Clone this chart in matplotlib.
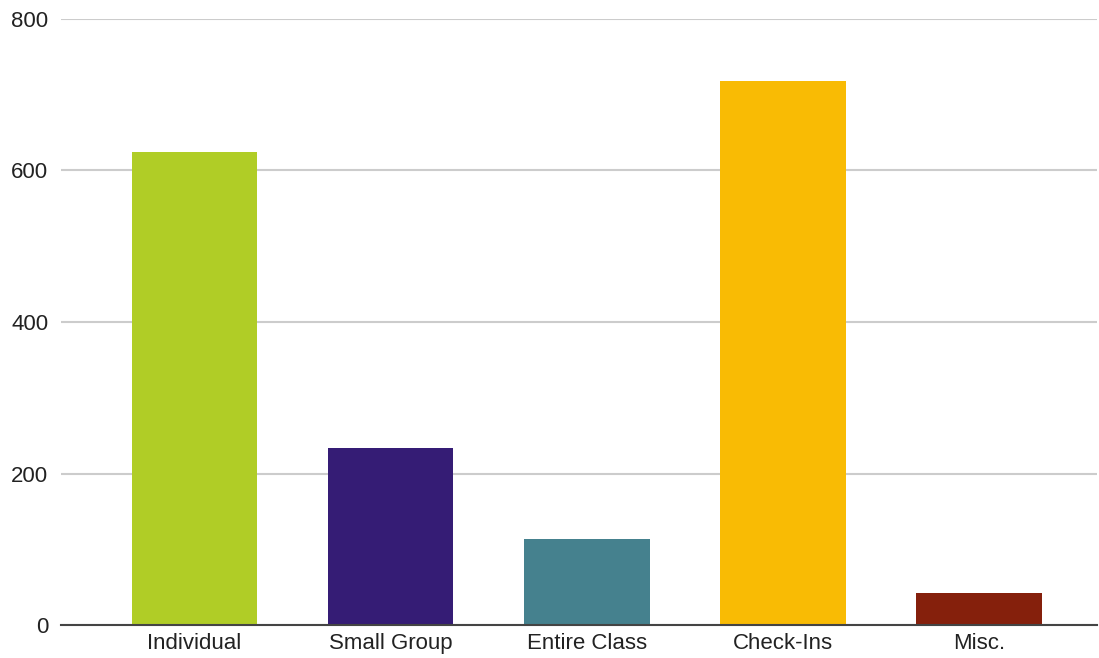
import matplotlib
matplotlib.use("Agg")
import matplotlib.pyplot as plt

categories = ["Individual", "Small Group", "Entire Class", "Check-Ins", "Misc."]
values = [624, 234, 114, 718, 42]
colors = ["#b0cd26", "#351c75", "#45818e", "#f9bb04", "#85200c"]
yticks = [0, 200, 400, 600, 800]

plt.rcParams["font.family"] = ["Liberation Sans", "DejaVu Sans"]

fig = plt.figure(figsize=(10.99, 6.58), dpi=100)
ax = fig.add_axes([61 / 1099, 33 / 658, 1036 / 1099, 606 / 658])

x = range(len(categories))
ax.bar(x, values, width=0.64, color=colors, zorder=3)

ax.set_ylim(0, 800)
ax.set_xlim(-0.68, 4.6)
ax.set_yticks(yticks)
ax.set_xticks(list(x))
ax.set_xticklabels(categories)
ax.yaxis.grid(True, color="#cccccc", linewidth=1.5, zorder=0)
ax.tick_params(axis="both", length=0, labelsize=16, colors="#222222")
ax.tick_params(axis="y", pad=9)
ax.tick_params(axis="x", pad=6)

for side in ["top", "right", "left"]:
    ax.spines[side].set_visible(False)
ax.spines["bottom"].set_color("#444444")
ax.spines["bottom"].set_linewidth(1.5)
ax.spines["bottom"].set_zorder(4)

fig.savefig("out.png", dpi=100)
